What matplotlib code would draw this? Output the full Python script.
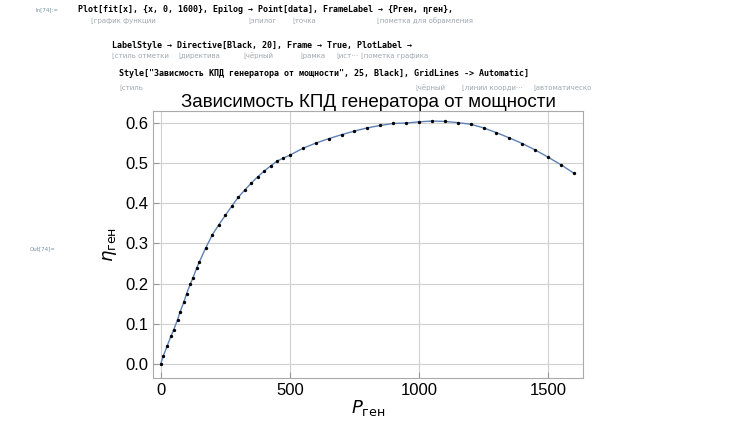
import numpy as np
import matplotlib.pyplot as plt

# values
p_gen = [0, 10, 25, 40, 50, 65, 75, 90, 100, 115, 125, 140, 150, 175, 200, 225, 250, 275, 300,
         325, 350, 375, 400, 425, 450, 475, 500, 550, 600, 650, 700, 750, 800, 850, 900, 950,
         1000, 1050, 1100, 1150, 1200, 1250, 1300, 1350, 1400, 1450, 1500, 1550, 1600]
eta_gen = [0.0, 0.02, 0.045, 0.07, 0.085, 0.11, 0.13, 0.155, 0.175, 0.2, 0.215, 0.24, 0.255,
           0.29, 0.322, 0.347, 0.37, 0.393, 0.415, 0.433, 0.45, 0.466, 0.48, 0.493, 0.505,
           0.513, 0.52, 0.537, 0.55, 0.561, 0.571, 0.58, 0.588, 0.594, 0.599, 0.6, 0.603,
           0.605, 0.604, 0.601, 0.597, 0.588, 0.576, 0.563, 0.549, 0.533, 0.515, 0.496, 0.475]

code_lines = [
    "Plot[fit[x], {x, 0, 1600}, Epilog \u2192 Point[data], FrameLabel \u2192 {P\u0433\u0435\u043d, \u03b7\u0433\u0435\u043d},",
    "LabelStyle \u2192 Directive[Black, 20], Frame \u2192 True, PlotLabel \u2192",
    "Style[\"\u0417\u0430\u0432\u0438\u0441\u043c\u043e\u0441\u0442\u044c \u041a\u041f\u0414 \u0433\u0435\u043d\u0435\u0440\u0430\u0442\u043e\u0440\u0430 \u043e\u0442 \u043c\u043e\u0449\u043d\u043e\u0441\u0442\u0438\", 25, Black], GridLines -> Automatic]",
]
code_x = [78, 112, 119]
code_y = [10, 45, 73]
hints = [
    [(91, "\u0433\u0440\u0430\u0444\u0438\u043a \u0444\u0443\u043d\u043a\u0446\u0438\u0438"), (248, "\u044d\u043f\u0438\u043b\u043e\u0433"), (292, "\u0442\u043e\u0447\u043a\u0430"), (377, "\u043f\u043e\u043c\u0435\u0442\u043a\u0430 \u0434\u043b\u044f \u043e\u0431\u0440\u0430\u043c\u043b\u0435\u043d\u0438\u044f")],
    [(112, "\u0441\u0442\u0438\u043b\u044c \u043e\u0442\u043c\u0435\u0442\u043a\u0438"), (178, "\u0434\u0438\u0440\u0435\u043a\u0442\u0438\u0432\u0430"), (243, "\u0447\u0451\u0440\u043d\u044b\u0439"), (300, "\u0440\u0430\u043c\u043a\u0430"), (336, "\u0438\u0441\u0442\u22ef"), (361, "\u043f\u043e\u043c\u0435\u0442\u043a\u0430 \u0433\u0440\u0430\u0444\u0438\u043a\u0430")],
    [(119, "\u0441\u0442\u0438\u043b\u044c"), (415, "\u0447\u0451\u0440\u043d\u044b\u0439"), (462, "\u043b\u0438\u043d\u0438\u0438 \u043a\u043e\u043e\u0440\u0434\u0438\u22ef"), (533, "\u0430\u0432\u0442\u043e\u043c\u0430\u0442\u0438\u0447\u0435\u0441\u043a\u043e")],
]
hint_y = [21, 56, 88]

W, H = 750, 421
fig = plt.figure(figsize=(7.5, 4.21), dpi=100)
fig.text(35 / W, 1 - 10 / H, "In[74]:=", fontsize=4, color="#7090a0", va="center")
fig.text(30 / W, 1 - 249 / H, "Out[74]=", fontsize=4, color="#7090a0", va="center")
for i, line in enumerate(code_lines):
    fig.text(code_x[i] / W, 1 - code_y[i] / H, line, fontsize=6, family="DejaVu Sans Mono",
             weight="bold", va="center")
    for hx, h in hints[i]:
        fig.text(hx / W, 1 - hint_y[i] / H, "\u230a" + h, fontsize=5, color="#a0a8b0", va="center")

ax = fig.add_axes([153 / W, 43 / H, 430 / W, 267 / H])
ax.plot(p_gen, eta_gen, color="#5E81B5", lw=1.0)
ax.scatter(p_gen, eta_gen, s=2, color="black", zorder=3)
ax.set_xlim(-30, 1635)
ax.set_ylim(-0.035, 0.63)
ax.set_xticks([0, 500, 1000, 1500])
ax.set_yticks(np.arange(0, 0.61, 0.1))
ax.set_yticklabels(["0.0", "0.1", "0.2", "0.3", "0.4", "0.5", "0.6"])
ax.grid(True, color="#d0d0d0", lw=0.8)
ax.tick_params(labelsize=12, direction="in", length=4, color="#999999")
for lab in ax.get_xticklabels() + ax.get_yticklabels():
    lab.set_family("Liberation Sans")
for s in ax.spines.values():
    s.set_color("#aaaaaa")
ax.set_xlabel("$P_{\\mathrm{\u0433\u0435\u043d}}$", fontsize=13, labelpad=0)
ax.set_ylabel("$\\eta_{\\mathrm{\u0433\u0435\u043d}}$", fontsize=13, labelpad=4)
ax.set_title("\u0417\u0430\u0432\u0438\u0441\u0438\u043c\u043e\u0441\u0442\u044c \u041a\u041f\u0414 \u0433\u0435\u043d\u0435\u0440\u0430\u0442\u043e\u0440\u0430 \u043e\u0442 \u043c\u043e\u0449\u043d\u043e\u0441\u0442\u0438",
             fontsize=13.5, family="Liberation Sans", pad=3)
fig.savefig("out.png", dpi=100)
